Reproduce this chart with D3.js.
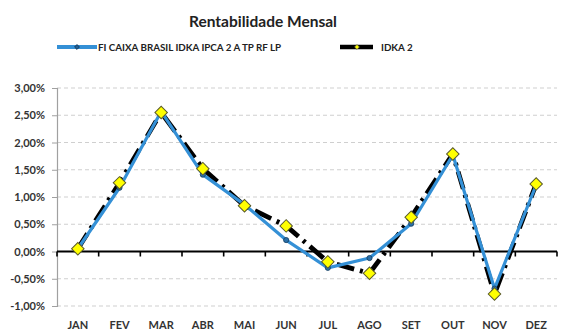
<!DOCTYPE html>
<html>
<head>
<meta charset="utf-8">
<script src="https://cdn.jsdelivr.net/npm/d3@7"></script>
<style>
  html, body { margin: 0; padding: 0; background: #fff; }
  svg { display: block; font-family: Lato, "Open Sans", sans-serif; font-weight: bold; }
</style>
</head>
<body>
<svg id="chart" width="564" height="331"></svg>
<script>
// Monthly returns (%)
const months = ["JAN","FEV","MAR","ABR","MAI","JUN","JUL","AGO","SET","OUT","NOV","DEZ"];
const fundValues = [0.05, 1.17, 2.57, 1.41, 0.86, 0.21, -0.30, -0.12, 0.51, 1.77, -0.68, 1.22];
const idkaValues = [0.05, 1.26, 2.55, 1.52, 0.84, 0.47, -0.19, -0.40, 0.63, 1.79, -0.78, 1.24];
const yTicks = [-1, -0.5, 0, 0.5, 1, 1.5, 2, 2.5, 3];
const fundName = "FI CAIXA BRASIL IDKA IPCA 2 A TP RF LP";
const idkaName = "IDKA 2";
const title = "Rentabilidade Mensal";

const svg = d3.select("#chart");
const plotLeft = 57, plotRight = 557, plotTop = 88, plotBottom = 306;

const x = d3.scaleBand().domain(months).range([plotLeft, plotRight]);
const y = d3.scaleLinear().domain([-1, 3]).range([plotBottom, plotTop]);
const fmt = v => v.toFixed(2).replace(".", ",") + "%";

const blue = "#3490d6";
// square turned 45 degrees: an even diamond marker
const diamond = size => d3.symbol(d3.symbolSquare, size)();

// Title
svg.append("text")
  .attr("x", 263).attr("y", 27)
  .attr("text-anchor", "middle")
  .attr("font-size", 15.5).attr("fill", "#222")
  .text(title);

// Legend
const lg = svg.append("g");
lg.append("line").attr("x1", 57).attr("x2", 97).attr("y1", 47).attr("y2", 47)
  .attr("stroke", blue).attr("stroke-width", 4);
lg.append("path").attr("d", diamond(12))
  .attr("transform", "translate(77,47) rotate(45)")
  .attr("fill", "#1f5f95").attr("stroke", "#10304f").attr("stroke-width", 0.8);
lg.append("text").attr("x", 98).attr("y", 50.5).attr("font-size", 9.8).attr("fill", "#222")
  .text(fundName);
lg.append("line").attr("x1", 340).attr("x2", 373).attr("y1", 47).attr("y2", 47)
  .attr("stroke", "#000").attr("stroke-width", 4.5);
lg.append("path").attr("d", diamond(12))
  .attr("transform", "translate(357,47) rotate(45)")
  .attr("fill", "#ffff00").attr("stroke", "#555").attr("stroke-width", 0.6);
lg.append("text").attr("x", 381).attr("y", 50.5).attr("font-size", 9.8).attr("fill", "#222")
  .text(idkaName);

// Gridlines
svg.append("g").selectAll("line")
  .data(yTicks.filter(v => v !== 0))
  .join("line")
  .attr("x1", plotLeft).attr("x2", plotRight)
  .attr("y1", d => y(d)).attr("y2", d => y(d))
  .attr("stroke", "#cfcfcf").attr("stroke-width", 1)
  .attr("stroke-dasharray", "4,3");

// Y axis
const yAxis = svg.append("g")
  .attr("transform", `translate(${plotLeft},0)`)
  .call(d3.axisLeft(y).tickValues(yTicks).tickFormat(fmt).tickSize(5).tickPadding(7));
yAxis.select(".domain").attr("stroke", "#a0a0a0").attr("stroke-width", 1.2);
yAxis.selectAll(".tick line").attr("stroke", "#a0a0a0");
yAxis.selectAll(".tick text")
  .attr("font-size", 11).attr("font-family", "Lato, sans-serif")
  .attr("font-weight", "bold").attr("fill", "#333");

// Zero line with category boundary ticks
const zero = y(0);
svg.append("line").attr("x1", plotLeft).attr("x2", plotRight)
  .attr("y1", zero).attr("y2", zero)
  .attr("stroke", "#000").attr("stroke-width", 2);
const bounds = months.map(m => x(m)).concat([plotRight]);
svg.append("g").selectAll("line").data(bounds).join("line")
  .attr("x1", d => d).attr("x2", d => d)
  .attr("y1", zero).attr("y2", zero + 5)
  .attr("stroke", "#000").attr("stroke-width", 1.6);

// Month labels
const xAxis = svg.append("g")
  .attr("transform", `translate(0,321)`)
  .call(d3.axisBottom(x).tickSize(0).tickPadding(0));
xAxis.select(".domain").remove();
xAxis.selectAll(".tick text")
  .attr("font-size", 11).attr("font-family", "Lato, sans-serif")
  .attr("font-weight", "bold").attr("fill", "#333")
  .attr("dy", "0.71em");

const cx = m => x(m) + x.bandwidth() / 2;
const line = d3.line().x(d => cx(d.m)).y(d => y(d.v));
const idka = months.map((m, i) => ({ m, v: idkaValues[i] }));
const fund = months.map((m, i) => ({ m, v: fundValues[i] }));

// Benchmark: heavy black long-dash-dot line
svg.append("path").datum(idka)
  .attr("d", line).attr("fill", "none")
  .attr("stroke", "#000").attr("stroke-width", 4.8)
  .attr("stroke-dasharray", "18,6,3,6");

// Fund: blue line on top
svg.append("path").datum(fund)
  .attr("d", line).attr("fill", "none")
  .attr("stroke", blue).attr("stroke-width", 3.2)
  .attr("stroke-linejoin", "round");

// Fund markers
svg.append("g").selectAll("circle").data(fund).join("circle")
  .attr("cx", d => cx(d.m)).attr("cy", d => y(d.v)).attr("r", 2.6)
  .attr("fill", "#2a6fa8").attr("stroke", "#173e60").attr("stroke-width", 0.8);

// Benchmark markers
svg.append("g").selectAll("path").data(idka).join("path")
  .attr("d", diamond(78))
  .attr("transform", d => `translate(${cx(d.m)},${y(d.v)}) rotate(45)`)
  .attr("fill", "#ffff00").attr("stroke", "#5a5a2a").attr("stroke-width", 1);
</script>
</body>
</html>
